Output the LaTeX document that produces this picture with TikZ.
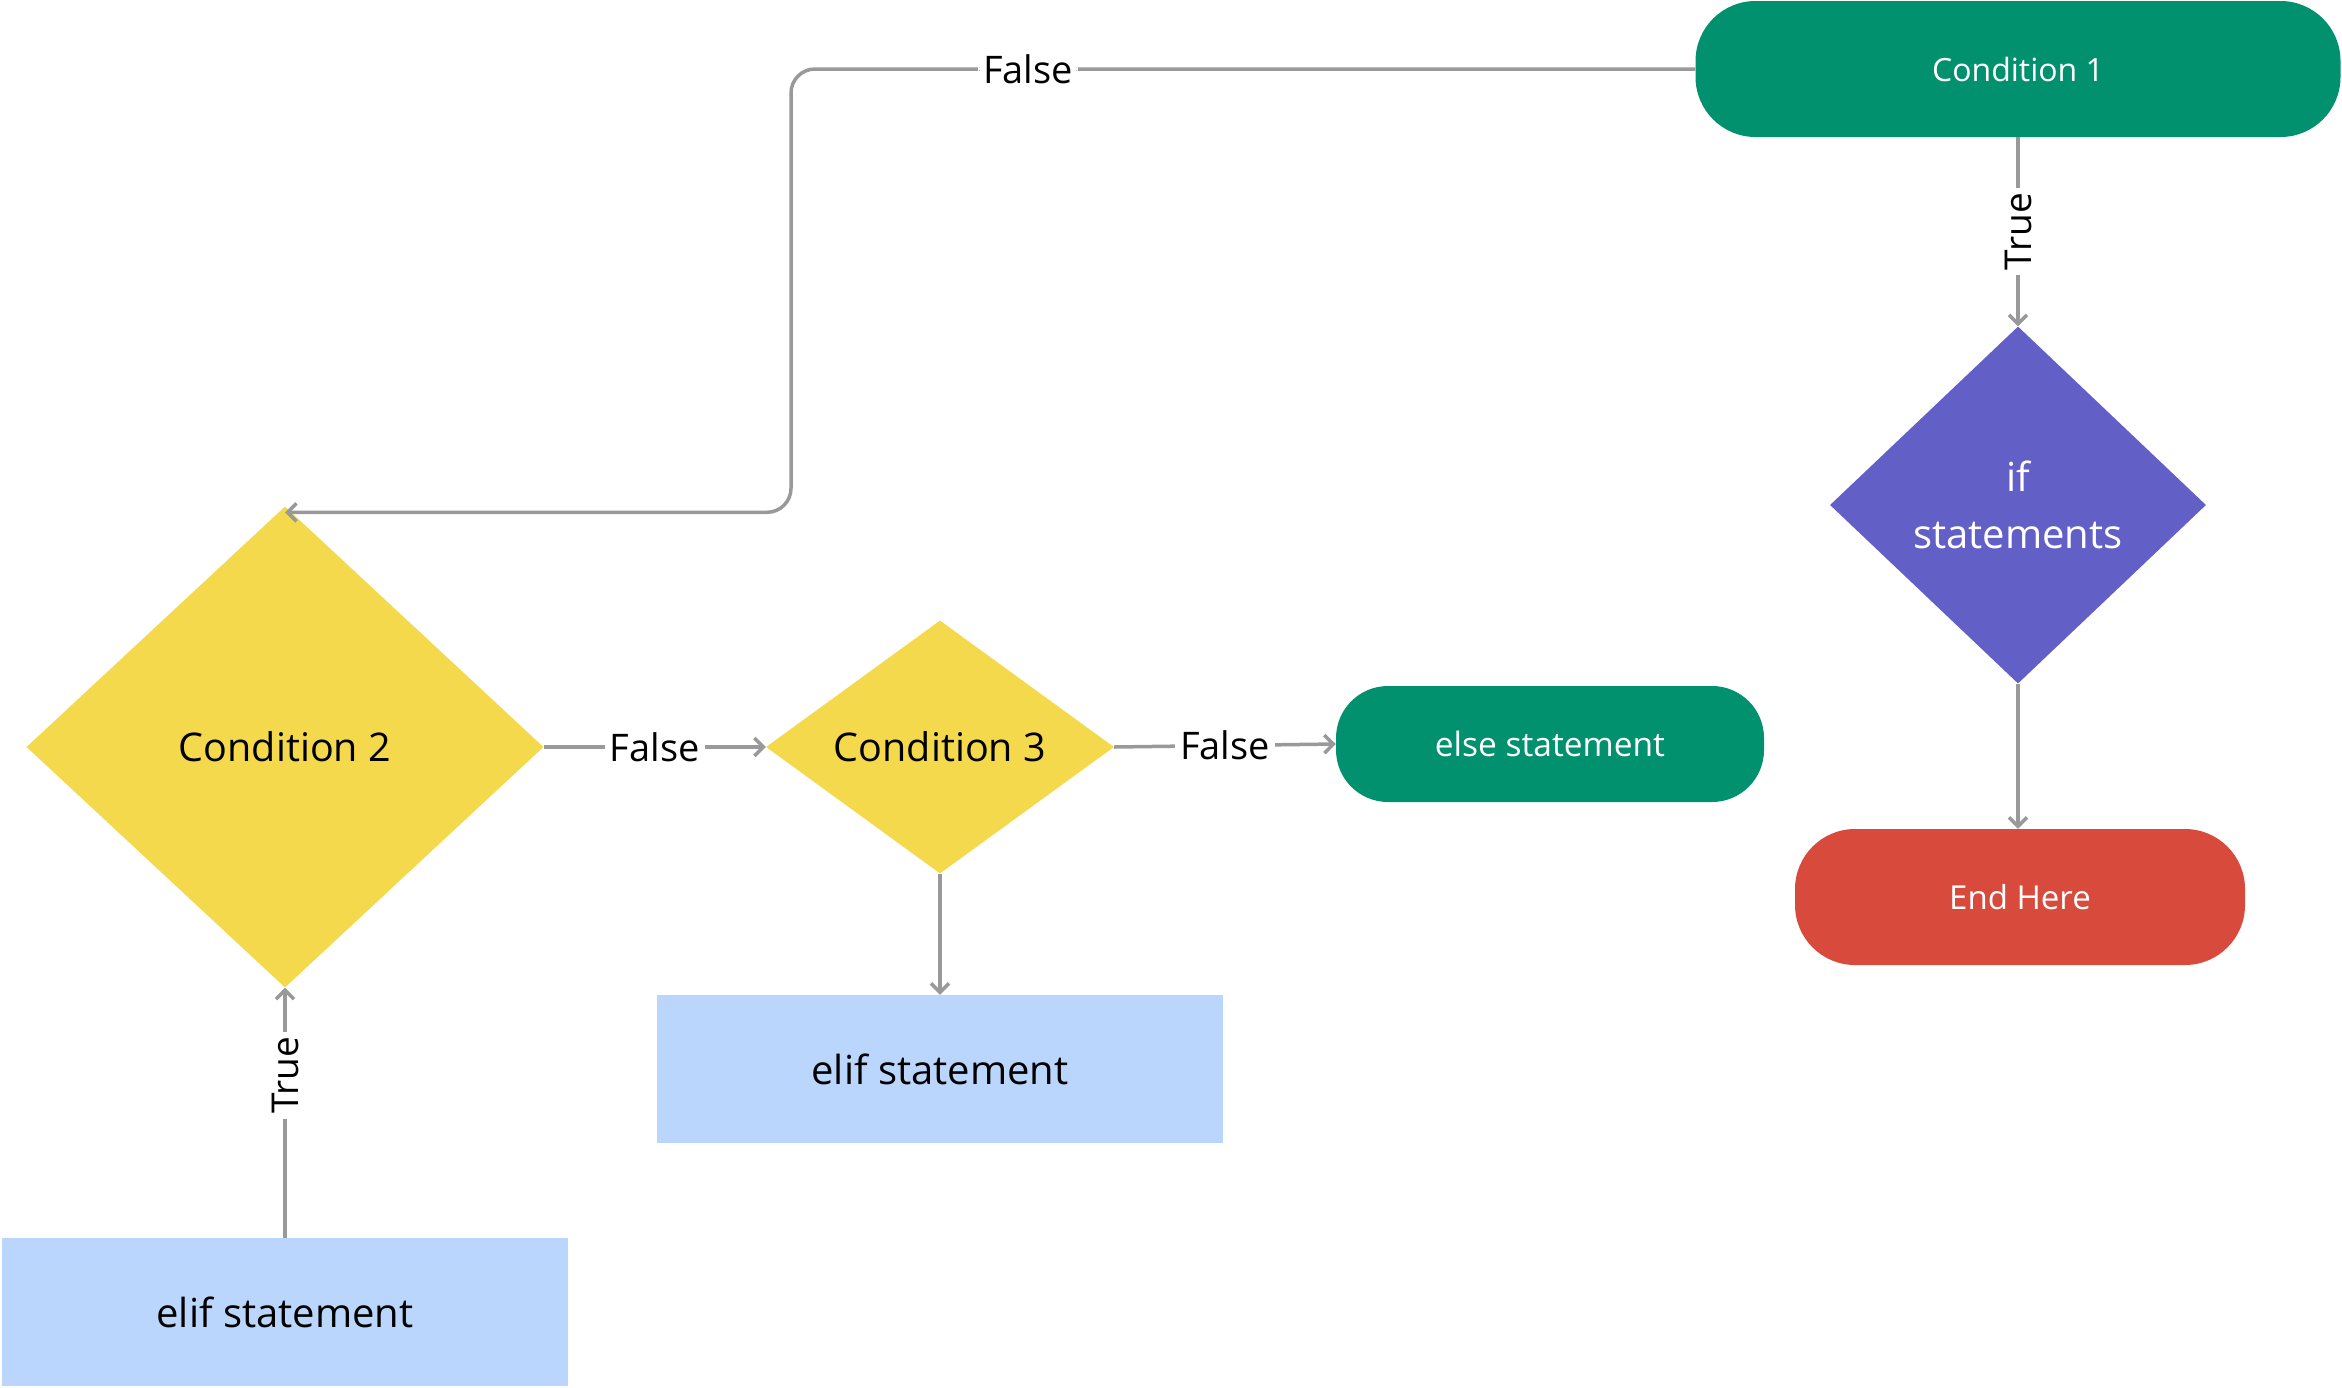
\documentclass[tikz,border=0pt]{standalone}
\usepackage{fontspec}
\setmainfont{Open Sans}
\usetikzlibrary{shapes.geometric,arrows.meta}
\definecolor{cgreen}{HTML}{02916F}
\definecolor{cpurple}{HTML}{625FC7}
\definecolor{cred}{HTML}{D84A3B}
\definecolor{cyellow}{HTML}{F3D94B}
\definecolor{cblue}{HTML}{BAD6FD}
\definecolor{cgray}{HTML}{999999}
\begin{document}
\begin{tikzpicture}[x=1pt,y=-1pt,
  pill/.style={rectangle, fill=cgreen, text=white, draw=none, inner sep=0pt},
  dia/.style={diamond, fill=cyellow, text=black, draw=none, inner sep=0pt, font=\fontsize{39.5}{47}\selectfont},
  elbox/.style={rectangle, fill=cblue, text=black, draw=none, inner sep=0pt, minimum width=566pt, minimum height=148pt, font=\fontsize{40}{48}\selectfont},
  lbl/.style={fill=white, text=black, inner xsep=5pt, inner ysep=2pt},
  flbl/.style={lbl, font=\fontsize{38}{46}\selectfont},
  tlbl/.style={lbl, rotate=90, font=\fontsize{37}{44}\selectfont},
  conn/.style={draw=cgray, line width=3.5pt, -{Straight Barb[length=9pt,width=18pt,line width=3.5pt]}}
]
\useasboundingbox (0,0) rectangle (2342,1387);

% nodes
\node[pill, minimum width=645pt, minimum height=136pt, rounded corners=60pt,
      font=\fontsize{32}{38}\selectfont] (c1) at (2018,69) {Condition 1};
\node[dia, fill=cpurple, text=white, minimum width=376pt, minimum height=357pt,
      align=center, font=\fontsize{40}{57}\selectfont] (ifs) at (2018,505) {if\\statements};
\node[pill, fill=cred, minimum width=450pt, minimum height=136pt, rounded corners=60pt,
      font=\fontsize{33}{40}\selectfont] (endn) at (2020,897) {End Here};
\node[dia, minimum width=517pt, minimum height=481pt] (c2) at (285,747) {Condition 2};
\node[dia, minimum width=348pt, minimum height=253pt] (c3) at (940,747) {Condition 3};
\node[pill, minimum width=428pt, minimum height=116pt, rounded corners=52pt,
      font=\fontsize{33.5}{40}\selectfont] (els) at (1550,744) {else statement};
\node[elbox] (e1) at (940,1069) {elif statement};
\node[elbox] (e2) at (285,1312) {elif statement};

\coordinate (k) at (791,69);

% connectors
\draw[conn] (c1.south) -- node[tlbl] {True} (ifs.north);
\draw[conn] (ifs.south) -- (ifs.south |- endn.north);
\draw[conn, rounded corners=24pt] (c1.west) -- node[flbl, pos=0.738] {False} (k) |- ([yshift=-6pt]c2.north);
\draw[conn] (c2.east) -- node[flbl] {False} (c3.west);
\draw[conn] (c3.east) -- node[flbl] {False} (els.west);
\draw[conn] (c3.south) -- (e1.north);
\draw[conn] (e2.north) -- node[tlbl, pos=0.65] {True} (c2.south);
\end{tikzpicture}
\end{document}
